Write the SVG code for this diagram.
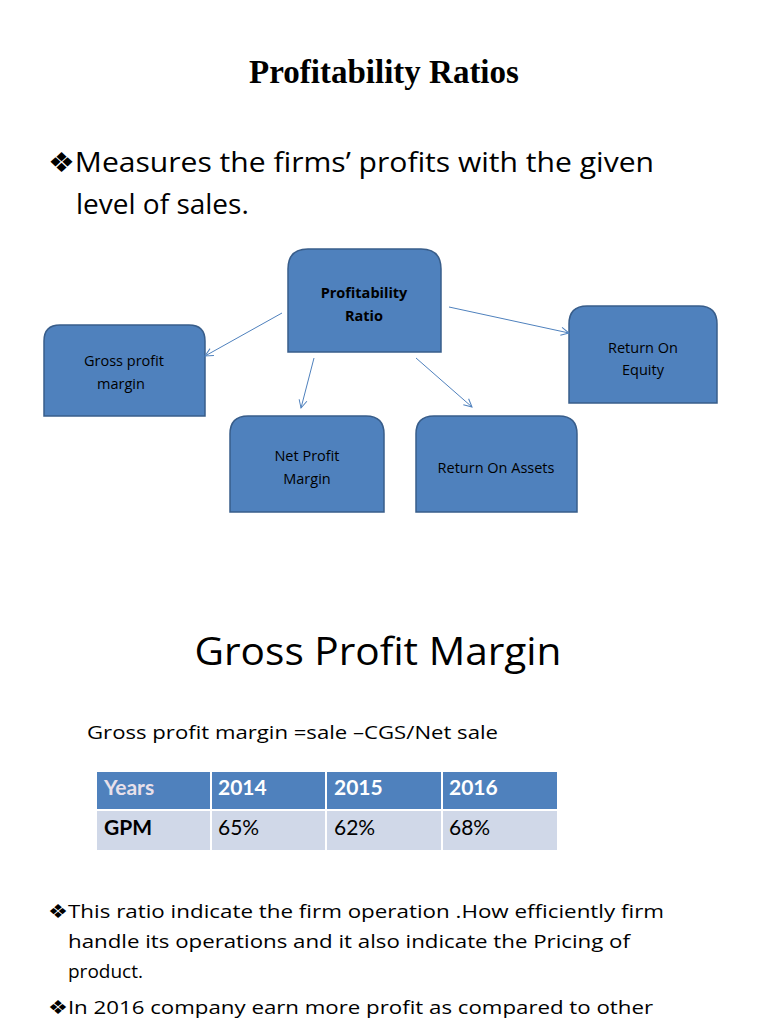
<svg xmlns="http://www.w3.org/2000/svg" width="768" height="1024" viewBox="0 0 768 1024">
<style>
.b{fill:#4f81bd;stroke:#385d8a;stroke-width:1.5}
.t{font-family:"Open Sans",Lato,sans-serif;font-size:14.5px;fill:#000;text-anchor:middle}
.c{stroke:#4f81bd;stroke-width:1;fill:none;marker-end:url(#a)}
.x{font-family:"Open Sans",Lato,sans-serif;fill:#000}
.h{font-family:Lato,"Liberation Sans",sans-serif;font-size:21px;font-weight:bold}
.d{font-family:Lato,"Liberation Sans",sans-serif;font-size:21px}
</style>
<defs><marker id="a" markerWidth="10" markerHeight="10" refX="9" refY="5" orient="auto" markerUnits="userSpaceOnUse"><path d="M1,1 L9,5 L1,9" fill="none" stroke="#4f81bd" stroke-width="1"/></marker></defs>
<rect width="768" height="1024" fill="#fff"/>
<text x="384" y="83" text-anchor="middle" font-family="Liberation Serif,serif" font-weight="bold" font-size="33">Profitability Ratios</text>
<text class="x" x="48" y="172" font-size="28" textLength="606" lengthAdjust="spacingAndGlyphs">❖Measures the firms’ profits with the given</text>
<text class="x" x="76" y="214" font-size="28">level of sales.</text>
<g id="n1"><path class="b" d="M288,352 V269 Q288,249 308,249 H421 Q441,249 441,269 V352 Z"/><text class="t" font-weight="bold" x="364" y="298">Profitability</text><text class="t" font-weight="bold" x="364" y="321">Ratio</text></g>
<g id="n2"><path class="b" d="M44,416 V341 Q44,325 60,325 H189 Q205,325 205,341 V416 Z"/><text class="t" x="124" y="366">Gross profit</text><text class="t" x="121" y="389">margin</text></g>
<g id="n3"><path class="b" d="M230,512 V434 Q230,416 248,416 H366 Q384,416 384,434 V512 Z"/><text class="t" x="307" y="461">Net Profit</text><text class="t" x="307" y="484">Margin</text></g>
<g id="n4"><path class="b" d="M416,512 V434 Q416,416 434,416 H559 Q577,416 577,434 V512 Z"/><text class="t" x="496" y="473">Return On Assets</text></g>
<g id="n5"><path class="b" d="M569,403 V324 Q569,306 587,306 H699 Q717,306 717,324 V403 Z"/><text class="t" x="643" y="353">Return On</text><text class="t" x="643" y="375">Equity</text></g>
<g id="connectors">
<line class="c" x1="282" y1="313" x2="205" y2="356"/>
<line class="c" x1="314" y1="358" x2="301" y2="408"/>
<line class="c" x1="416" y1="358" x2="472" y2="407"/>
<line class="c" x1="449" y1="307" x2="569" y2="333"/>
</g>
<text class="x" x="378" y="665" font-size="38" text-anchor="middle" textLength="367" lengthAdjust="spacingAndGlyphs">Gross Profit Margin</text>
<text class="x" x="87" y="739" font-size="19" textLength="411" lengthAdjust="spacingAndGlyphs">Gross profit margin =sale –CGS/Net sale</text>
<rect x="97" y="772" width="460" height="38" fill="#4f81bd"/>
<rect x="97" y="811" width="460" height="39" fill="#d0d8e8"/>
<g stroke="#fff" stroke-width="2"><line x1="211" y1="772" x2="211" y2="850"/><line x1="326" y1="772" x2="326" y2="850"/><line x1="442" y1="772" x2="442" y2="850"/><line x1="97" y1="810" x2="557" y2="810"/></g>
<text class="h" x="104" y="795" fill="#e8e0ea">Years</text>
<text class="h" x="218" y="795" fill="#fff">2014</text>
<text class="h" x="334" y="795" fill="#fff">2015</text>
<text class="h" x="449" y="795" fill="#fff">2016</text>
<text class="h" x="104" y="835">GPM</text>
<text class="d" x="218" y="835">65%</text>
<text class="d" x="334" y="835">62%</text>
<text class="d" x="449" y="835">68%</text>
<text class="x" x="48" y="918" font-size="19" textLength="616" lengthAdjust="spacingAndGlyphs">❖This ratio indicate the firm operation .How efficiently firm</text>
<text class="x" x="68" y="948" font-size="19" textLength="562" lengthAdjust="spacingAndGlyphs">handle its operations and it also indicate the Pricing of</text>
<text class="x" x="68" y="978" font-size="19">product.</text>
<text class="x" x="48" y="1014" font-size="19" textLength="605" lengthAdjust="spacingAndGlyphs">❖In 2016 company earn more profit as compared to other</text>
</svg>
